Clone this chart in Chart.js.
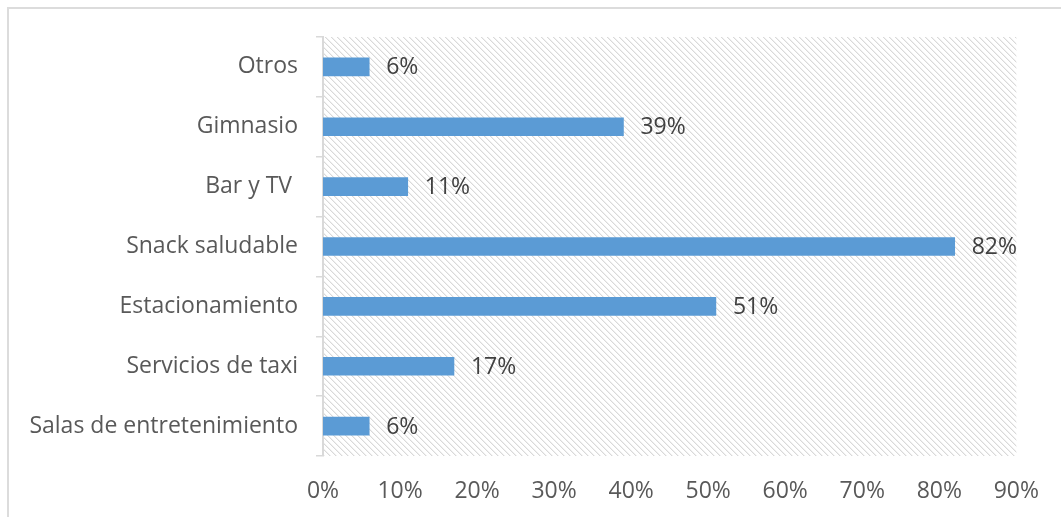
<!DOCTYPE html>
<html>
<head>
<meta charset="utf-8">
<script src="https://cdn.jsdelivr.net/npm/chart.js@4.4.1/dist/chart.umd.min.js"></script>
<style>
  html, body { margin: 0; padding: 0; background: #fff; overflow: hidden; }
  #wrap { position: relative; width: 1061px; height: 517px; }
  #frame {
    position: absolute; left: 7px; top: 7px; width: 1100px; height: 600px;
    border-top: 2px solid #dcdcdc; border-left: 2px solid #dcdcdc;
  }
  canvas { position: absolute; left: 0; top: 0; }
</style>
</head>
<body>
<div id="wrap">
  <div id="frame"></div>
  <canvas id="chart" width="1061" height="517"></canvas>
</div>
<script>
// Servicios preferidos (porcentaje de encuestados)
const categories = [
  'Otros',
  'Gimnasio',
  'Bar y TV ',
  'Snack saludable',
  'Estacionamiento',
  'Servicios de taxi',
  'Salas de entretenimiento'
];
const shares = [6, 39, 11, 82, 51, 17, 6];
const xTicks = [0, 10, 20, 30, 40, 50, 60, 70, 80, 90];

const FONT = '"Open Sans", sans-serif';
const FONT_SIZE = 23;

// diagonal hatch used as the plot background
function makeHatch() {
  const c = document.createElement('canvas');
  c.width = 6; c.height = 6;
  const g = c.getContext('2d');
  for (let i = 0; i < 6; i++) {
    g.fillStyle = '#d9d9d9';
    g.fillRect(i, i, 1, 1);
    g.fillStyle = '#f0f0f0';
    g.fillRect((i + 1) % 6, i, 1, 1);
  }
  return c;
}

const hatchBackground = {
  id: 'hatchBackground',
  beforeDraw(chart) {
    const { ctx, chartArea: a } = chart;
    ctx.save();
    ctx.fillStyle = ctx.createPattern(makeHatch(), 'repeat');
    ctx.fillRect(a.left, a.top, a.right - a.left, a.bottom - a.top);
    ctx.restore();
  }
};

const valueLabels = {
  id: 'valueLabels',
  afterDatasetsDraw(chart) {
    const ctx = chart.ctx;
    const meta = chart.getDatasetMeta(0);
    ctx.save();
    ctx.font = FONT_SIZE + 'px ' + FONT;
    ctx.fillStyle = '#404040';
    ctx.textAlign = 'left';
    ctx.textBaseline = 'middle';
    meta.data.forEach((bar, i) => {
      ctx.fillText(shares[i] + '%', bar.x + 17, bar.y + 1);
    });
    ctx.restore();
  }
};

new Chart(document.getElementById('chart'), {
  type: 'bar',
  data: {
    labels: categories,
    datasets: [{
      data: shares,
      backgroundColor: '#5b9bd5',
      barThickness: 18,
      borderWidth: 0
    }]
  },
  options: {
    indexAxis: 'y',
    responsive: false,
    animation: false,
    layout: { padding: { top: 37, right: 43, left: 0, bottom: 0 } },
    plugins: {
      legend: { display: false },
      tooltip: { enabled: false }
    },
    scales: {
      x: {
        min: 0,
        max: 90,
        afterBuildTicks: scale => { scale.ticks = xTicks.map(v => ({ value: v })); },
        afterFit: scale => { scale.height = 61; },
        grid: { display: false, drawTicks: false, tickLength: 0 },
        border: { display: false },
        ticks: {
          padding: 22,
          color: '#595959',
          font: { family: FONT, size: FONT_SIZE },
          callback: v => v + '%'
        }
      },
      y: {
        afterFit: scale => { scale.width = 323; },
        grid: {
          offset: true,
          drawOnChartArea: false,
          tickLength: 7,
          color: '#d9d9d9',
          lineWidth: 1.5
        },
        border: { display: true, color: '#d9d9d9', width: 2 },
        ticks: {
          padding: 18,
          color: '#595959',
          font: { family: FONT, size: FONT_SIZE }
        }
      }
    }
  },
  plugins: [hatchBackground, valueLabels]
});
</script>
</body>
</html>
